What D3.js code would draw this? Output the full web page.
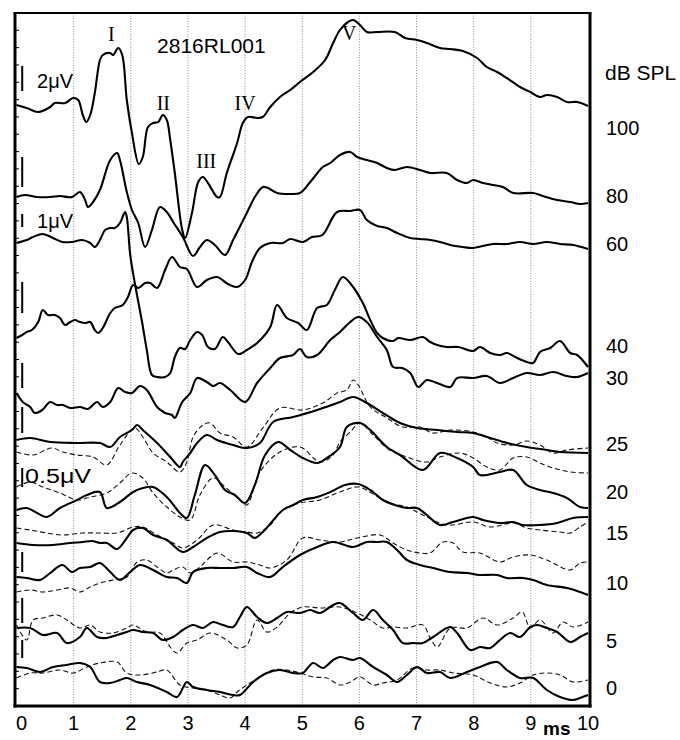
<!DOCTYPE html>
<html><head><meta charset="utf-8">
<script src="https://cdn.jsdelivr.net/npm/d3@7"></script>
<style>body{margin:0;background:#fff}</style>
</head><body>
<svg id="c" width="680" height="740"></svg>
<script>
// ---- data (time in ms, amplitude in stacked plot units) ----
const timeTicks = [0,1,2,3,4,5,6,7,8,9,10];
const levels = ["100","80","60","40","30","25","20","15","10","5","0"];
const levelLabelPos = [57.9,51.1,46.3,36.1,32.9,26.3,21.5,17.4,12.4,6.6,1.9];
const peakNames = ["I","II","III","IV","V"];
const peakTimes = [1.66,2.57,3.32,4.0,5.82];
const peakLabelPos = [66.5,59.6,53.8,59.6,66.6];
const scaleBarTop = [64.0,54.9,49.2,42.4,34.3,29.9,23.8,15.4,10.8,6.6];
const scaleBarBottom = [61.5,51.9,47.9,39.3,31.8,27.3,21.9,13.4,8.3,4.8];
const scaleLabels = ["2μV","1μV","0.5μV"];
const scaleLabelTimes = [0.36,0.36,0.15];
const scaleLabelPos = [61.8,47.8,22.3];
const recordId = "2816RL001";

const trace100 = [[0,60.1],[0.18,59.8],[0.38,59.4],[0.59,59.9],[0.67,60.3],[0.85,60.3],[0.99,60.8],[1.08,60.6],[1.16,59.1],[1.22,58.4],[1.29,59.1],[1.37,61.3],[1.46,64.6],[1.51,65.1],[1.64,65.3],[1.69,65.1],[1.78,65.8],[1.85,65.1],[1.93,60.6],[2.02,57.3],[2.14,54.2],[2.21,54.9],[2.30,57.9],[2.39,58.3],[2.48,58.4],[2.56,59.1],[2.63,58.6],[2.69,56.6],[2.77,53.3],[2.90,47.6],[2.95,46.8],[3.07,49.3],[3.18,52.4],[3.26,52.9],[3.35,52.3],[3.51,50.9],[3.56,50.9],[3.68,53.3],[3.86,56.3],[3.96,58.3],[4.05,58.9],[4.21,58.8],[4.31,58.9],[4.44,59.9],[4.61,60.9],[4.79,61.6],[4.96,62.4],[5.19,63.4],[5.40,64.6],[5.54,66.3],[5.66,67.6],[5.80,68.4],[5.89,68.6],[6.01,68.1],[6.13,67.4],[6.31,67.4],[6.62,67.4],[6.80,66.8],[7.01,66.6],[7.18,66.3],[7.41,65.8],[7.59,65.7],[7.81,65.5],[8.06,64.8],[8.23,63.9],[8.41,63.4],[8.58,62.8],[8.81,61.9],[8.99,61.4],[9.16,60.9],[9.28,61.1],[9.46,60.9],[9.63,60.4],[9.81,60.4],[10,60.0]];
const trace80 = [[0,50.9],[0.15,51.1],[0.36,50.9],[0.59,50.9],[0.76,51.0],[0.97,50.9],[1.11,51.4],[1.20,50.6],[1.25,49.9],[1.34,50.4],[1.46,51.6],[1.64,54.6],[1.76,55.3],[1.81,54.6],[1.93,51.4],[2.02,49.6],[2.13,48.3],[2.25,45.9],[2.37,47.6],[2.51,49.9],[2.63,49.4],[2.74,48.4],[2.91,46.9],[3.09,45.0],[3.21,45.9],[3.33,46.6],[3.47,46.1],[3.65,45.1],[3.79,46.6],[4.03,49.3],[4.17,50.9],[4.31,51.9],[4.40,51.8],[4.56,51.3],[4.79,51.2],[4.96,51.3],[5.14,52.4],[5.36,53.9],[5.49,54.3],[5.66,55.1],[5.84,55.4],[5.96,54.9],[6.13,54.6],[6.31,54.3],[6.48,53.8],[6.62,53.6],[6.83,53.9],[7.06,53.6],[7.24,53.3],[7.53,53.3],[7.71,52.6],[7.88,52.3],[7.99,52.6],[8.16,52.3],[8.34,52.1],[8.51,51.9],[8.69,51.3],[9.04,51.3],[9.21,51.0],[9.46,50.6],[9.69,50.4],[9.86,50.2],[10,50.3]];
const trace60 = [[0,36.8],[0.10,37.1],[0.18,37.4],[0.27,37.6],[0.38,38.4],[0.46,39.6],[0.55,39.1],[0.67,39.1],[0.76,38.8],[0.85,38.1],[0.94,38.4],[1.02,38.6],[1.11,38.4],[1.20,38.3],[1.29,38.4],[1.37,37.6],[1.43,37.3],[1.51,37.8],[1.64,39.3],[1.72,39.8],[1.86,40.1],[1.95,40.9],[2.04,42.1],[2.13,41.8],[2.25,42.3],[2.34,42.3],[2.46,41.8],[2.60,43.6],[2.72,44.9],[2.86,43.9],[2.98,43.7],[3.16,41.9],[3.33,42.6],[3.51,42.9],[3.70,42.2],[3.86,41.9],[4.00,42.6],[4.12,44.4],[4.26,45.8],[4.44,46.3],[4.66,46.3],[4.79,46.7],[5.01,46.4],[5.17,46.9],[5.35,47.1],[5.61,49.4],[5.84,49.5],[6.01,49.6],[6.13,48.6],[6.31,48.0],[6.48,47.8],[6.66,47.3],[6.89,46.8],[7.06,46.7],[7.24,46.6],[7.41,46.4],[7.59,46.1],[7.81,45.9],[7.99,45.8],[8.16,46.0],[8.34,46.2],[8.58,46.2],[8.81,46.4],[9.04,46.2],[9.28,46.4],[9.51,46.2],[9.74,46.1],[10,45.7]];
const trace40 = [[0,46.3],[0.18,46.6],[0.29,46.9],[0.46,47.2],[0.64,46.8],[0.80,46.4],[0.97,46.4],[1.15,46.6],[1.29,46.3],[1.37,45.9],[1.46,46.6],[1.55,47.6],[1.64,47.8],[1.72,47.8],[1.81,48.3],[1.90,49.4],[1.93,48.9],[1.99,45.1],[2.07,42.3],[2.20,38.3],[2.28,35.6],[2.37,33.1],[2.46,32.9],[2.60,32.9],[2.69,33.3],[2.77,34.9],[2.86,35.8],[2.95,35.7],[3.04,36.6],[3.16,37.4],[3.25,37.1],[3.35,35.9],[3.47,35.7],[3.61,36.9],[3.70,36.4],[3.88,35.2],[4.03,35.6],[4.21,36.3],[4.44,37.9],[4.56,40.1],[4.73,38.8],[4.93,38.3],[5.08,37.6],[5.26,39.8],[5.43,40.1],[5.57,41.6],[5.71,42.9],[5.89,41.9],[6.06,40.3],[6.19,38.6],[6.31,37.3],[6.41,36.8],[6.59,36.5],[6.68,36.8],[6.89,36.6],[7.11,36.9],[7.24,36.4],[7.36,36.1],[7.53,35.9],[7.73,35.9],[7.99,35.5],[8.11,35.9],[8.29,35.3],[8.46,35.1],[8.58,35.3],[8.76,34.8],[8.93,34.4],[9.04,34.3],[9.16,35.4],[9.34,35.8],[9.51,36.5],[9.69,35.3],[9.81,35.1],[10,33.9]];
const trace30 = [[0,31.3],[0.11,30.4],[0.24,29.9],[0.32,29.3],[0.45,29.6],[0.59,30.4],[0.71,30.1],[0.81,30.1],[0.94,29.8],[1.11,29.9],[1.25,29.7],[1.41,30.4],[1.51,29.9],[1.64,30.4],[1.78,31.8],[1.90,31.4],[2.02,31.3],[2.16,32.0],[2.28,31.6],[2.46,29.9],[2.60,29.3],[2.72,29.1],[2.77,28.8],[2.90,30.4],[3.04,31.3],[3.16,32.8],[3.33,32.4],[3.44,32.0],[3.56,32.3],[3.74,31.6],[4.00,30.4],[4.21,32.3],[4.44,33.8],[4.61,34.8],[4.84,35.1],[4.96,35.7],[5.08,34.9],[5.26,35.1],[5.49,36.6],[5.66,37.4],[5.84,38.4],[5.98,38.9],[6.13,38.4],[6.31,36.9],[6.48,35.6],[6.59,33.9],[6.75,33.8],[6.89,33.3],[7.03,31.9],[7.18,32.6],[7.36,32.3],[7.59,31.9],[7.71,32.8],[7.99,32.8],[8.23,33.0],[8.46,32.3],[8.69,32.8],[8.93,33.3],[9.16,33.1],[9.39,33.4],[9.63,33.0],[9.81,32.9],[10,33.3]];
const trace25 = [[0,26.6],[0.24,26.8],[0.59,26.4],[1.06,26.3],[1.46,26.3],[1.64,25.9],[1.81,26.9],[2.02,27.6],[2.11,28.1],[2.21,27.6],[2.46,26.3],[2.69,24.9],[2.86,23.9],[2.91,24.4],[3.04,25.3],[3.16,26.3],[3.33,27.1],[3.51,26.6],[3.79,26.1],[4.03,25.8],[4.26,26.3],[4.49,28.4],[4.84,28.9],[5.26,29.6],[5.66,30.4],[5.89,30.9],[6.13,30.3],[6.41,29.3],[6.71,28.3],[7.01,27.8],[7.36,27.6],[7.71,27.4],[7.99,27.3],[8.29,26.8],[8.58,26.3],[8.93,25.9],[9.28,25.6],[9.51,25.4],[10,25.3]];
const trace25b = [[0,25.4],[0.29,25.1],[0.62,25.8],[0.81,25.4],[1.06,25.1],[1.34,24.9],[1.58,24.1],[1.81,26.1],[2.07,27.8],[2.21,26.9],[2.39,25.3],[2.63,24.4],[2.86,23.4],[2.98,24.4],[3.09,26.9],[3.26,28.1],[3.39,28.3],[3.56,27.3],[3.79,26.9],[4.03,25.9],[4.31,27.8],[4.61,29.8],[5.01,29.6],[5.36,30.3],[5.61,31.3],[5.78,31.6],[5.89,32.6],[5.98,32.1],[6.19,29.9],[6.48,28.8],[6.76,27.9],[7.06,27.9],[7.29,27.3],[7.59,27.6],[7.99,27.4],[8.23,26.9],[8.41,26.3],[8.69,26.1],[8.93,26.5],[9.16,26.1],[9.39,25.3],[9.63,25.6],[10,25.8]];
const trace20 = [[0,19.6],[0.18,19.8],[0.36,19.3],[0.53,18.9],[0.76,19.8],[1.06,20.6],[1.23,21.1],[1.46,21.4],[1.58,19.8],[1.81,20.4],[2.04,21.4],[2.21,21.8],[2.39,21.9],[2.63,20.9],[2.86,19.3],[2.98,18.8],[3.12,21.1],[3.30,24.1],[3.47,23.1],[3.65,21.6],[3.82,21.1],[4.00,20.3],[4.17,22.1],[4.35,25.1],[4.58,26.4],[4.79,25.6],[5.01,24.8],[5.26,24.3],[5.43,24.8],[5.66,25.9],[5.78,27.9],[6.01,28.3],[6.19,27.6],[6.48,25.9],[6.71,25.1],[7.11,23.6],[7.41,25.3],[7.71,24.8],[7.99,23.9],[8.11,23.1],[8.46,23.4],[8.69,23.6],[8.93,22.1],[9.16,21.6],[9.39,21.3],[9.63,20.8],[9.86,19.9],[10,19.8]];
const trace20b = [[0,21.9],[0.24,22.4],[0.46,21.9],[0.76,21.3],[1.06,20.6],[1.29,20.9],[1.58,21.3],[1.81,22.3],[2.02,23.3],[2.21,22.8],[2.39,21.3],[2.63,19.9],[2.86,18.9],[3.04,18.6],[3.21,21.1],[3.44,22.8],[3.65,21.9],[3.91,20.6],[4.03,20.1],[4.26,23.4],[4.61,25.4],[4.96,25.9],[5.31,24.4],[5.54,25.1],[5.66,26.4],[5.84,27.4],[6.01,28.3],[6.24,27.1],[6.53,25.6],[6.83,24.9],[7.18,24.4],[7.41,24.9],[7.76,25.3],[7.99,24.8],[8.23,23.9],[8.46,23.6],[8.69,24.8],[8.93,24.9],[9.16,24.3],[9.39,23.8],[9.69,23.4],[10,23.3]];
const trace15 = [[0,16.3],[0.29,16.1],[0.64,16.1],[0.94,16.3],[1.16,16.4],[1.32,16.5],[1.46,16.3],[1.58,16.3],[1.76,15.7],[1.93,16.8],[2.04,17.6],[2.21,17.8],[2.39,17.1],[2.63,16.6],[2.91,15.4],[3.09,15.9],[3.33,16.8],[3.56,17.4],[3.79,17.5],[4.03,17.3],[4.17,16.8],[4.31,17.4],[4.66,19.6],[4.84,20.1],[5.01,20.6],[5.26,20.9],[5.49,21.4],[5.75,22.1],[5.98,22.2],[6.19,21.6],[6.41,20.6],[6.62,20.1],[6.83,19.8],[7.01,19.8],[7.18,19.1],[7.41,18.1],[7.64,18.4],[7.99,18.9],[8.16,18.6],[8.46,18.3],[8.69,18.4],[8.86,18.1],[9.16,18.1],[9.46,18.3],[9.74,18.8],[10,18.9]];
const trace15b = [[0,17.8],[0.24,17.6],[0.53,17.3],[0.81,17.1],[1.16,17.3],[1.46,17.3],[1.76,17.3],[2.04,17.9],[2.21,17.9],[2.46,17.1],[2.74,16.3],[2.91,15.8],[3.16,16.6],[3.44,18.1],[3.79,17.6],[4.03,17.4],[4.21,17.3],[4.44,18.1],[4.66,19.6],[4.96,20.3],[5.31,20.6],[5.66,21.4],[5.98,21.9],[6.27,21.1],[6.53,20.3],[6.83,19.9],[7.11,19.1],[7.53,18.1],[7.99,18.4],[8.29,17.9],[8.69,18.3],[8.93,17.8],[9.16,17.6],[9.51,17.4],[9.69,17.3],[9.86,17.9],[10,18.4]];
const trace10 = [[0,12.9],[0.18,12.8],[0.41,12.6],[0.59,13.3],[0.80,14.1],[0.97,13.4],[1.11,13.8],[1.29,13.9],[1.46,14.3],[1.64,13.4],[1.81,12.6],[1.99,13.4],[2.16,14.1],[2.39,13.6],[2.63,12.9],[2.81,12.8],[2.98,12.3],[3.09,13.4],[3.33,13.8],[3.56,13.8],[3.79,13.8],[4.03,13.9],[4.21,13.3],[4.44,12.9],[4.66,13.9],[4.96,15.1],[5.26,15.9],[5.54,16.4],[5.89,15.9],[6.13,16.4],[6.31,16.4],[6.48,16.4],[6.66,15.6],[6.83,14.6],[7.06,14.1],[7.29,13.8],[7.59,13.4],[7.88,13.3],[8.11,13.1],[8.41,13.1],[8.58,12.8],[8.86,12.8],[9.04,12.6],[9.28,12.1],[9.63,11.8],[9.86,11.4],[10,11.1]];
const trace10b = [[0,11.4],[0.24,11.6],[0.46,11.4],[0.71,11.6],[0.94,11.8],[1.11,11.4],[1.29,11.9],[1.46,12.3],[1.69,12.6],[1.93,12.9],[2.11,14.4],[2.28,14.6],[2.46,13.9],[2.63,13.3],[2.74,13.6],[2.91,13.9],[3.04,13.3],[3.21,13.9],[3.51,15.3],[3.79,14.4],[4.03,14.4],[4.26,14.1],[4.44,13.8],[4.73,14.6],[5.01,16.8],[5.31,16.6],[5.66,16.4],[5.96,16.8],[6.36,17.1],[6.59,16.3],[6.83,15.6],[7.06,15.3],[7.24,15.3],[7.46,16.4],[7.64,16.3],[7.81,15.4],[8.11,15.3],[8.46,14.4],[8.69,14.9],[8.99,15.1],[9.28,14.6],[9.69,13.6],[9.86,14.3],[10,14.4]];
const trace5 = [[0,7.8],[0.24,7.8],[0.46,7.1],[0.71,7.3],[0.88,6.3],[1.11,6.9],[1.23,7.8],[1.41,6.9],[1.58,6.8],[1.76,7.1],[1.93,7.4],[2.04,7.6],[2.21,7.4],[2.39,7.3],[2.56,6.6],[2.74,6.9],[2.91,7.6],[3.09,8.1],[3.26,7.8],[3.44,8.4],[3.61,8.1],[3.79,7.9],[3.91,8.9],[4.03,9.9],[4.21,8.9],[4.38,8.3],[4.56,8.8],[4.73,9.4],[4.96,9.3],[5.14,9.6],[5.31,9.3],[5.54,10.1],[5.66,10.3],[5.89,9.3],[6.06,8.6],[6.24,9.6],[6.41,8.6],[6.59,7.6],[6.76,6.3],[6.94,6.3],[7.11,6.3],[7.29,6.9],[7.59,7.9],[7.71,7.3],[7.94,5.6],[8.11,5.9],[8.29,5.8],[8.46,6.6],[8.64,7.3],[8.81,6.9],[8.99,7.9],[9.11,8.1],[9.28,7.8],[9.46,7.4],[9.69,6.4],[9.86,6.9],[10,7.3]];
const trace5b = [[0,8.1],[0.18,6.6],[0.29,8.6],[0.46,8.8],[0.71,9.1],[0.88,8.6],[1.11,7.8],[1.29,8.1],[1.46,7.4],[1.69,7.3],[1.93,7.8],[2.04,8.1],[2.28,7.4],[2.51,7.3],[2.69,5.9],[2.81,5.3],[2.98,6.3],[3.16,6.6],[3.39,7.3],[3.68,6.6],[3.86,5.8],[4.03,6.1],[4.21,8.6],[4.38,7.4],[4.56,7.9],[4.79,9.3],[5.01,9.9],[5.31,9.8],[5.66,9.9],[5.96,9.3],[6.19,8.6],[6.41,7.8],[6.59,7.9],[6.83,7.8],[7.11,8.1],[7.24,6.8],[7.36,5.9],[7.59,7.8],[7.88,7.8],[8.16,8.8],[8.41,8.1],[8.69,8.8],[8.85,9.4],[8.99,7.8],[9.16,8.6],[9.39,7.3],[9.56,8.4],[9.74,7.9],[10,8.4]];
const trace0 = [[0,3.9],[0.18,3.8],[0.41,3.4],[0.64,3.9],[0.88,4.1],[1.11,4.3],[1.29,3.9],[1.46,2.4],[1.64,2.3],[1.81,2.6],[1.93,2.8],[2.11,2.4],[2.34,2.1],[2.63,1.4],[2.81,0.9],[2.98,2.4],[3.09,1.9],[3.33,1.6],[3.56,1.4],[3.79,1.1],[3.91,1.1],[4.14,2.4],[4.38,3.3],[4.61,3.6],[4.84,3.3],[5.01,3.3],[5.19,4.3],[5.36,3.8],[5.54,4.6],[5.66,4.9],[5.89,4.6],[6.01,4.8],[6.24,3.9],[6.48,3.1],[6.66,2.4],[6.83,3.1],[7.01,3.9],[7.18,3.3],[7.41,3.4],[7.59,2.8],[7.88,3.4],[8.11,3.9],[8.41,4.4],[8.58,3.6],[8.81,2.8],[9.04,2.8],[9.28,1.6],[9.51,0.9],[9.74,0.6],[9.86,0.8],[10,1.1]];
const trace0b = [[0,2.8],[0.24,3.3],[0.46,3.3],[0.76,3.6],[0.99,3.3],[1.23,3.9],[1.46,4.3],[1.76,4.4],[1.93,3.3],[2.16,3.1],[2.46,3.4],[2.63,3.6],[2.86,2.1],[3.09,1.8],[3.33,1.6],[3.56,1.1],[3.74,0.8],[3.86,1.4],[4.03,2.1],[4.26,2.9],[4.49,3.6],[4.73,3.6],[4.96,3.3],[5.19,2.9],[5.43,2.8],[5.66,2.1],[5.84,2.4],[6.01,2.9],[6.24,2.1],[6.41,2.3],[6.66,2.6],[6.94,3.8],[7.18,3.6],[7.41,3.6],[7.64,3.3],[7.99,3.1],[8.29,2.3],[8.58,1.9],[8.81,2.3],[9.04,3.1],[9.28,3.3],[9.51,3.1],[9.74,2.4],[10,2.6]];

const solidTraces = [trace100,trace80,trace60,trace40,trace30,trace25,trace20,trace15,trace10,trace5,trace0];
const dashedTraces = [trace25b,trace20b,trace15b,trace10b,trace5b,trace0b];

// ---- drawing ----
const svg = d3.select("#c");
const L = 15, R = 590, T = 13, B = 706;
const x = d3.scaleLinear().domain([0,10]).range([16.5,588]);
const y = d3.scaleLinear().domain([0,69.4]).range([706,12]);
const sans = "'Liberation Sans', Arial, sans-serif";
const serif = "'Liberation Serif', 'Times New Roman', serif";

// grid lines
svg.append("g").selectAll("line").data(timeTicks.slice(1,10)).join("line")
  .attr("x1", d=>x(d)).attr("x2", d=>x(d)).attr("y1", T).attr("y2", B)
  .attr("stroke","#8a8a8a").attr("stroke-width",1).attr("stroke-dasharray","1,1.6");

// left minor ticks
svg.append("g").selectAll("line").data(d3.range(41)).join("line")
  .attr("x1", L).attr("x2", L+4)
  .attr("y1", d=>T + d*(B-T)/40).attr("y2", d=>T + d*(B-T)/40)
  .attr("stroke","#000").attr("stroke-width",1);

const line = d3.line().x(d=>x(d[0])).y(d=>y(d[1])).curve(d3.curveCatmullRom.alpha(0.5));

svg.append("g").selectAll("path").data(dashedTraces).join("path")
  .attr("d", line).attr("fill","none").attr("stroke","#111")
  .attr("stroke-width",1.1).attr("stroke-dasharray","5,3");

svg.append("g").selectAll("path").data(solidTraces).join("path")
  .attr("d", line).attr("fill","none").attr("stroke","#000")
  .attr("stroke-width",2.1).attr("stroke-linejoin","round");

// frame
svg.append("line").attr("x1",L-1.5).attr("x2",R+1.5).attr("y1",T).attr("y2",T).attr("stroke","#000").attr("stroke-width",2);
svg.append("line").attr("x1",L).attr("x2",L).attr("y1",T).attr("y2",B+1.5).attr("stroke","#000").attr("stroke-width",3);
svg.append("line").attr("x1",R).attr("x2",R).attr("y1",T).attr("y2",B+1.5).attr("stroke","#000").attr("stroke-width",3);
svg.append("line").attr("x1",L-1.5).attr("x2",R+1.5).attr("y1",B).attr("y2",B).attr("stroke","#000").attr("stroke-width",3);

// scale bars
svg.append("g").selectAll("line").data(scaleBarTop).join("line")
  .attr("x1", x(0.1)).attr("x2", x(0.1))
  .attr("y1", d=>y(d)).attr("y2", (d,i)=>y(scaleBarBottom[i]))
  .attr("stroke","#000").attr("stroke-width",2);
svg.append("g").selectAll("text").data(scaleLabels).join("text")
  .attr("x",(d,i)=>x(scaleLabelTimes[i])).attr("y",(d,i)=>y(scaleLabelPos[i]))
  .attr("font-family",sans).attr("font-size",20).text(d=>d)
  .each(function(d){ if(d==="0.5μV") d3.select(this).attr("textLength",66).attr("lengthAdjust","spacingAndGlyphs"); });

// peak labels
svg.append("g").selectAll("text").data(peakNames).join("text")
  .attr("x",(d,i)=>x(peakTimes[i])).attr("y",(d,i)=>y(peakLabelPos[i]))
  .attr("text-anchor","middle").attr("font-family",serif).attr("font-size",20).text(d=>d);

// record id
svg.append("text").attr("x",x(2.46)).attr("y",y(65.3)).attr("font-family",sans)
  .attr("font-size",21).text(recordId);

// right level labels
svg.append("text").attr("x",605).attr("y",80).attr("font-family",sans).attr("font-size",21).text("dB SPL");
svg.append("g").selectAll("text").data(levels).join("text")
  .attr("x",606).attr("y",(d,i)=>y(levelLabelPos[i])+7.5)
  .attr("font-family",sans).attr("font-size",20).text(d=>d);

// x tick labels
svg.append("g").selectAll("text").data(timeTicks).join("text")
  .attr("x",d=>x(d) + (d===0?5:0)).attr("y",730)
  .attr("text-anchor","middle").attr("font-family",sans).attr("font-size",20).text(d=>d);
svg.append("text").attr("x",543).attr("y",735).attr("font-family",sans)
  .attr("font-size",19).attr("font-weight","bold").text("ms");
</script>
</body></html>
